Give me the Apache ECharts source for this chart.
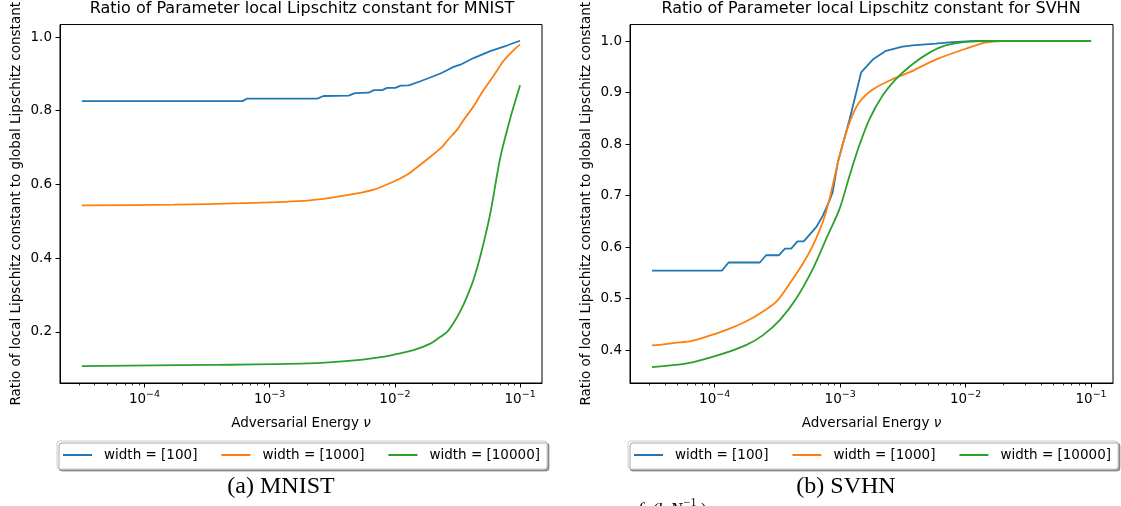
<!DOCTYPE html>
<html>
<head>
<meta charset="utf-8">
<script src="https://cdn.jsdelivr.net/npm/echarts@6/dist/echarts.min.js"></script>
<style>
html, body { margin: 0; padding: 0; background: #fff; }
#chart { width: 1121px; height: 506px; }
</style>
</head>
<body>
<div id="chart"></div>
<script>
var seriesNames = ['width = [100]', 'width = [1000]', 'width = [10000]'];
var colors = ['#1f77b4', '#ff7f0e', '#2ca02c'];

// MNIST: [adversarial energy, ratio]
var mnist100 = [[3.16e-5, 0.826], [6.07e-4, 0.826], [6.61e-4, 0.833], [2.40e-3, 0.833], [2.69e-3, 0.840],
  [4.27e-3, 0.841], [4.79e-3, 0.848], [6.17e-3, 0.849], [6.79e-3, 0.856], [7.91e-3, 0.856], [8.67e-3, 0.862],
  [1.01e-2, 0.862], [1.11e-2, 0.868], [1.29e-2, 0.869], [1.60e-2, 0.880], [2.31e-2, 0.901], [2.61e-2, 0.910],
  [2.94e-2, 0.919], [3.33e-2, 0.925], [4.25e-2, 0.943], [5.77e-2, 0.962], [7.83e-2, 0.977], [0.1, 0.990]];
var mnist1000 = [[3.16e-5, 0.543], [1.73e-4, 0.545], [5.89e-4, 0.549], [2.0e-3, 0.556], [3.68e-3, 0.568],
  [6.79e-3, 0.586], [1.04e-2, 0.612], [1.25e-2, 0.626], [1.41e-2, 0.639], [1.92e-2, 0.675], [2.38e-2, 0.702],
  [2.61e-2, 0.718], [3.13e-2, 0.748], [3.54e-2, 0.775], [4.25e-2, 0.812], [4.81e-2, 0.842], [5.11e-2, 0.856],
  [6.14e-2, 0.895], [7.36e-2, 0.935], [8.85e-2, 0.964], [0.1, 0.980]];
var mnist10000 = [[3.16e-5, 0.107], [3.19e-4, 0.110], [2.0e-3, 0.114], [5.01e-3, 0.123], [7.67e-3, 0.131],
  [1.04e-2, 0.140], [1.41e-2, 0.150], [1.92e-2, 0.168], [2.17e-2, 0.180], [2.61e-2, 0.200], [2.94e-2, 0.224],
  [3.33e-2, 0.256], [3.76e-2, 0.295], [4.25e-2, 0.342], [4.81e-2, 0.405], [5.77e-2, 0.520], [6.93e-2, 0.671],
  [8.34e-2, 0.779], [0.1, 0.869]];

// SVHN
var svhn100 = [[3.16e-5, 0.554], [1.14e-4, 0.554], [1.29e-4, 0.570], [2.29e-4, 0.570], [2.57e-4, 0.584],
  [3.24e-4, 0.584], [3.63e-4, 0.597], [4.07e-4, 0.597], [4.57e-4, 0.611], [5.13e-4, 0.611], [6.46e-4, 0.639],
  [7.28e-4, 0.661], [8.22e-4, 0.690], [8.73e-4, 0.707], [9.57e-4, 0.764], [1.19e-3, 0.848], [1.47e-3, 0.939],
  [1.82e-3, 0.964], [2.32e-3, 0.981], [3.14e-3, 0.989], [3.77e-3, 0.9915], [5.78e-3, 0.995], [7.85e-3, 0.998],
  [1.2e-2, 1.0], [0.1, 1.0]];
var svhn1000 = [[3.16e-5, 0.409], [3.91e-5, 0.411], [5.31e-5, 0.415], [6.37e-5, 0.417], [8.13e-5, 0.424],
  [1.24e-4, 0.439], [1.79e-4, 0.456], [2.29e-4, 0.471], [3.10e-4, 0.494], [3.96e-4, 0.529], [5.05e-4, 0.568],
  [6.07e-4, 0.603], [7.28e-4, 0.649], [8.22e-4, 0.693], [9.89e-4, 0.777], [1.19e-3, 0.842], [1.42e-3, 0.881],
  [1.82e-3, 0.906], [2.62e-3, 0.926], [3.55e-3, 0.939], [5.78e-3, 0.964], [1.06e-2, 0.987], [1.44e-2, 0.997],
  [1.95e-2, 1.0], [0.1, 1.0]];
var svhn10000 = [[3.16e-5, 0.367], [6.0e-5, 0.374], [1.10e-4, 0.391], [1.79e-4, 0.410], [2.43e-4, 0.429],
  [3.30e-4, 0.458], [4.47e-4, 0.500], [6.07e-4, 0.558], [7.74e-4, 0.616], [9.89e-4, 0.674], [1.19e-3, 0.739],
  [1.42e-3, 0.797], [1.71e-3, 0.848], [2.18e-3, 0.894], [2.78e-3, 0.926], [3.77e-3, 0.955], [5.12e-3, 0.977],
  [6.93e-3, 0.9915], [1.06e-2, 0.9987], [1.5e-2, 1.0], [0.1, 1.0]];

var xMin = 2.113e-5, xMax = 0.1496;
var xMajorTicks = [1e-4, 1e-3, 1e-2, 1e-1];
var xMinorTicks = [3e-5, 4e-5, 5e-5, 6e-5, 7e-5, 8e-5, 9e-5,
  2e-4, 3e-4, 4e-4, 5e-4, 6e-4, 7e-4, 8e-4, 9e-4,
  2e-3, 3e-3, 4e-3, 5e-3, 6e-3, 7e-3, 8e-3, 9e-3,
  2e-2, 3e-2, 4e-2, 5e-2, 6e-2, 7e-2, 8e-2, 9e-2];
var mnistYTicks = [0.2, 0.4, 0.6, 0.8, 1.0];
var svhnYTicks = [0.4, 0.5, 0.6, 0.7, 0.8, 0.9, 1.0];

var titles = ['Ratio of Parameter local Lipschitz constant for MNIST', 'Ratio of Parameter local Lipschitz constant for SVHN'];
var captions = ['(a) MNIST', '(b) SVHN'];
var yName = 'Ratio of local Lipschitz constant to global Lipschitz constant';
var xName = 'Adversarial Energy {i|ν}';

var FONT = 'DejaVu Sans';
var FS = 13.5;
var grids = [
  { left: 60, top: 23, width: 482, height: 360 },
  { left: 630, top: 23, width: 483, height: 360 }
];

function expLabel(v) {
  var e = Math.round(Math.log10(v));
  return '10{s|' + (e < 0 ? '\u2212' : '') + Math.abs(e) + '}';
}

function majorX(gi) {
  return {
    type: 'log', gridIndex: gi, min: xMin, max: xMax, position: 'bottom',
    axisLine: { show: true, lineStyle: { color: '#000', width: 1 } },
    axisTick: { show: true, length: 4.5, customValues: xMajorTicks, lineStyle: { color: '#000', width: 1 } },
    axisLabel: {
      customValues: xMajorTicks, margin: 7, color: '#000', fontFamily: FONT, fontSize: FS,
      formatter: expLabel, verticalAlign: 'top',
      rich: { s: { fontSize: 9.5, fontFamily: FONT, color: '#000', padding: [0, 0, 9, 0], verticalAlign: 'bottom' } }
    },
    splitLine: { show: false },
    name: xName, nameLocation: 'middle', nameGap: 33,
    nameTextStyle: { fontFamily: FONT, fontSize: FS, color: '#000', rich: { i: { fontStyle: 'italic', fontFamily: FONT, fontSize: FS, color: '#000' } } }
  };
}
function minorX(gi) {
  return {
    type: 'log', gridIndex: gi, min: xMin, max: xMax, position: 'bottom',
    axisLine: { show: false },
    axisTick: { show: true, length: 2.5, customValues: xMinorTicks, lineStyle: { color: '#000', width: 0.8 } },
    axisLabel: { show: false },
    splitLine: { show: false }
  };
}
function yAxisOf(gi, min, max, ticks) {
  return {
    type: 'value', gridIndex: gi, min: min, max: max,
    axisLine: { show: true, lineStyle: { color: '#000', width: 1 } },
    axisTick: { show: true, length: 4.5, customValues: ticks, lineStyle: { color: '#000', width: 1 } },
    axisLabel: { customValues: ticks, margin: 8, color: '#000', fontFamily: FONT, fontSize: FS,
      formatter: function (v) { return v.toFixed(1); } },
    splitLine: { show: false },
    name: yName, nameLocation: 'middle', nameRotate: 90, nameGap: 37,
    nameTextStyle: { fontFamily: FONT, fontSize: FS, color: '#000' }
  };
}
function lineSeries(name, data, xi, yi, ci, smooth) {
  return {
    name: name, type: 'line', data: data, xAxisIndex: xi, yAxisIndex: yi,
    showSymbol: false, symbol: 'none', smooth: smooth ? 0.3 : false, animation: false,
    lineStyle: { width: 1.8, color: colors[ci] }, itemStyle: { color: colors[ci] }
  };
}
function legendOf(left) {
  return {
    data: seriesNames, left: left, top: 441, orient: 'horizontal',
    icon: 'rect', itemWidth: 29, itemHeight: 2, itemGap: 24,
    padding: [7, 7, 7, 6], backgroundColor: '#fff',
    borderColor: '#cccccc', borderWidth: 1, borderRadius: 3,
    shadowColor: 'rgba(0,0,0,0.35)', shadowOffsetX: 2, shadowOffsetY: 2, shadowBlur: 0,
    selectedMode: false,
    textStyle: { fontFamily: FONT, fontSize: FS, color: '#000', padding: [0, 0, 0, 7] }
  };
}
function textEl(x, y, text, font) {
  return { type: 'text', silent: true,
    style: { text: text, x: x, y: y, font: font, fill: '#000', textAlign: 'center', textVerticalAlign: 'middle' } };
}

var chart = echarts.init(document.getElementById('chart'), null, { renderer: 'canvas' });
var option = {
  backgroundColor: '#fff',
  animation: false,
  grid: grids.map(function (g) {
    return { left: g.left, top: g.top, width: g.width, height: g.height, show: true, borderColor: '#000', borderWidth: 1, backgroundColor: 'transparent' };
  }),
  xAxis: [majorX(0), minorX(0), majorX(1), minorX(1)],
  yAxis: [yAxisOf(0, 0.061, 1.034, mnistYTicks), yAxisOf(1, 0.336, 1.032, svhnYTicks)],
  legend: [legendOf(57), legendOf(628)],
  series: [
    lineSeries(seriesNames[0], mnist100, 0, 0, 0, false),
    lineSeries(seriesNames[1], mnist1000, 0, 0, 1, true),
    lineSeries(seriesNames[2], mnist10000, 0, 0, 2, true),
    lineSeries(seriesNames[0], svhn100, 2, 1, 0, false),
    lineSeries(seriesNames[1], svhn1000, 2, 1, 1, true),
    lineSeries(seriesNames[2], svhn10000, 2, 1, 2, true)
  ],
  graphic: [
    textEl(302, 9, titles[0], '16px "DejaVu Sans"'),
    textEl(871, 9, titles[1], '16px "DejaVu Sans"'),
    textEl(281, 487, captions[0], '24px "Liberation Serif"'),
    textEl(846, 487, captions[1], '24px "Liberation Serif"'),
    textEl(660, 511, 'f  (k N', 'italic 18px "Liberation Serif"'),
    textEl(690, 503, '\u22121', '12px "Liberation Serif"'),
    textEl(704, 511, ')', '18px "Liberation Serif"')
  ]
};
chart.setOption(option);
window.addEventListener('resize', function () { chart.resize(); });
</script>
</body>
</html>
